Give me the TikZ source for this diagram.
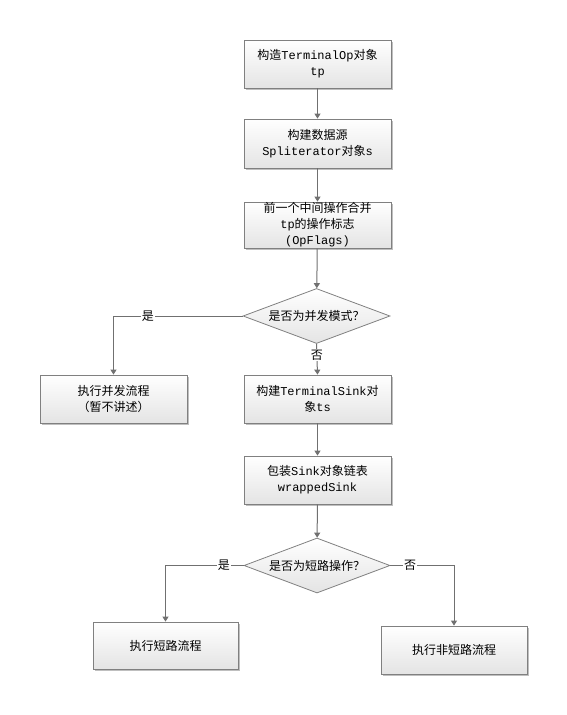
\documentclass[tikz,border=0pt]{standalone}
\usepackage{fontspec}
\setmainfont{Liberation Mono}
\newfontfamily\cjk{Noto Sans CJK SC}
\usetikzlibrary{shapes.geometric,shadows,arrows.meta}
\definecolor{linegray}{HTML}{707070}
\definecolor{boxgray}{HTML}{808080}
\definecolor{fillgray}{HTML}{E4E4E4}
\begin{document}
\begin{tikzpicture}[x=1pt,y=-1pt,
  box/.style={draw=boxgray, line width=0.8pt, top color=white, bottom color=fillgray,
    drop shadow={shadow xshift=2pt,shadow yshift=-2pt,fill=black!25,opacity=1},
    minimum width=147pt, minimum height=48pt, inner sep=0pt, align=center,
    font=\fontsize{12}{16}\selectfont},
  dec/.style={diamond, aspect=2.67, draw=boxgray, line width=0.8pt, top color=white, bottom color=fillgray,
    minimum width=147pt, minimum height=55pt, inner sep=0pt, align=center,
    font=\cjk\fontsize{12}{16}\selectfont},
  conn/.style={draw=linegray, line width=1pt, -{Triangle[width=6pt,length=5pt]}},
  lbl/.style={fill=white, inner sep=1pt, font=\cjk\fontsize{12}{14}\selectfont, text=black}
]
\useasboundingbox (0,0) rectangle (567,715);

\node[box] (b1) at (317.5,64) {{\cjk 构造}TerminalOp{\cjk 对象}\\tp};
\node[box, minimum height=49pt] (b2) at (317.5,143.5) {{\cjk 构建数据源}\\Spliterator{\cjk 对象}s};
\node[box, minimum height=46pt] (b3) at (317.5,225) {{\cjk 前一个中间操作合并}\\tp{\cjk 的操作标志}\\(OpFlags)};
\node[dec] (d1) at (316.5,316) {是否为并发模式？};
\node[box] (p1) at (113.5,399) {{\cjk 执行并发流程}\\{\cjk （暂不讲述）}};
\node[box] (t1) at (317.5,399) {{\cjk 构建}TerminalSink{\cjk 对}\\{\cjk 象}ts};
\node[box] (w1) at (317.5,480) {{\cjk 包装}Sink{\cjk 对象链表}\\wrappedSink};
\node[dec, minimum width=146pt] (d2) at (317,565.5) {是否为短路操作？};
\node[box, minimum width=145pt, minimum height=47pt] (s1) at (165.5,645.5) {{\cjk 执行短路流程}};
\node[box, minimum width=146pt] (n1) at (454,650) {{\cjk 执行非短路流程}};

\draw[conn] (b1) -- (b2);
\draw[conn] (b2) -- (b3);
\draw[conn] (b3) -- (d1);
\draw[conn] (d1.west) -| node[lbl, pos=0.367]{是} (p1.north);
\draw[conn] (d1.south) -- node[lbl, pos=0.37]{否} (t1.north);
\draw[conn] (t1) -- (w1);
\draw[conn] (w1) -- (d2);
\draw[conn] (d2.west) -| node[lbl, pos=0.127]{是} (s1.north);
\draw[conn] (d2.east) -| node[lbl, pos=0.156]{否} (n1.north);
\end{tikzpicture}
\end{document}
